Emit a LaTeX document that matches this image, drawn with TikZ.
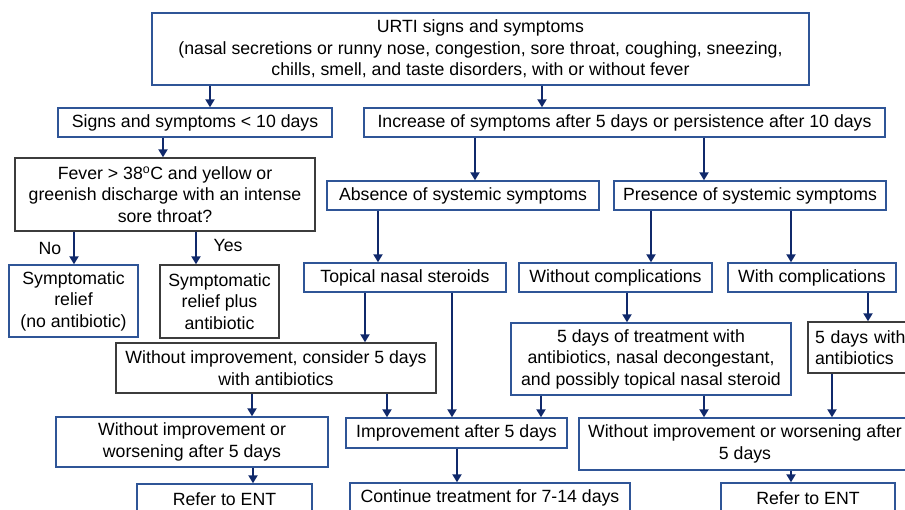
\documentclass[tikz,border=0pt]{standalone}
\usepackage{fontspec}
\setmainfont{Liberation Sans}
\usepackage{xcolor}
\usepackage{tikz}
\usetikzlibrary{arrows.meta}
\definecolor{Navy}{HTML}{10296B}
\definecolor{BoxBlue}{HTML}{2F5597}
\definecolor{DarkGrey}{HTML}{3C3C3C}

\begin{document}
\begin{tikzpicture}[
  x=1pt,y=-1pt,
  every node/.style={font=\fontsize{17.7pt}{21.5pt}\selectfont,align=center},
  box/.style={draw=BoxBlue,line width=1.4pt,fill=white,inner sep=0pt},
  dbox/.style={box,draw=DarkGrey},
  sz/.style 2 args={minimum width=#1pt,minimum height=#2pt},
  lbl/.style={inner sep=0pt},
  arr/.style={-{Triangle[length=8pt,width=9pt]},line width=2.8pt,color=Navy}
]
\useasboundingbox (0,0) rectangle (905,510);
\clip (0,0) rectangle (905,510);

\node[box,sz={657}{72}] (urti) at (480.5,49) {URTI signs and symptoms\\(nasal secretions or runny nose, congestion, sore throat, coughing, sneezing,\\chills, smell, and taste disorders, with or without fever};

\node[box,sz={274}{29}] (signs) at (195,122.5) {Signs and symptoms < 10 days};
\node[box,sz={521}{29}] (incr) at (624.5,122.5) {Increase of symptoms after 5 days or persistence after 10 days};

\node[dbox,sz={300}{73}] (fever) at (165,194.5) {Fever > 38\textsuperscript{o}C and yellow or\\greenish discharge with an intense\\sore throat?};
\node[box,sz={272}{29}] (absent) at (463,195.5) {Absence of systemic symptoms};
\node[box,sz={272}{29}] (present) at (750,195.5) {Presence of systemic symptoms};

\node[lbl] (no) at (50,248) {No};
\node[lbl] (yes) at (228,245) {Yes};
\node[box,sz={129}{72}] (relief) at (73.5,301) {Symptomatic\\relief\\(no antibiotic)};
\node[dbox,sz={119}{73}] (reliefab) at (219.5,301.5) {Symptomatic\\relief plus\\antibiotic};
\node[box,sz={202}{29}] (topical) at (405,277.5) {Topical nasal steroids};
\node[box,sz={193}{29}] (nocomp) at (615.5,277.5) {Without complications};
\node[box,sz={168}{29}] (comp) at (812,277.5) {With complications};

\node[dbox,sz={320}{50}] (consider) at (276,368) {Without improvement, consider 5 days\\with antibiotics};
\node[box,sz={280}{72}] (treat) at (651,359) {5 days of treatment with\\antibiotics, nasal decongestant,\\and possibly topical nasal steroid};
\node[dbox,sz={120}{51},text width=106pt,align=left,inner xsep=7pt] (withab) at (868,347.5) {5 days with\\antibiotics};

\node[box,sz={272}{50}] (worseA) at (192,442) {Without improvement or\\worsening after 5 days};
\node[box,sz={221}{30}] (improve) at (456.5,433) {Improvement after 5 days};
\node[box,sz={332}{52}] (worseB) at (745,444) {Without improvement or worsening after\\5 days};

\node[box,sz={175}{30}] (entA) at (224.5,499) {Refer to ENT};
\node[box,sz={280}{30}] (cont) at (490,498) {Continue treatment for 7-14 days};
\node[box,sz={174}{30}] (entB) at (808,498) {Refer to ENT};

\draw[arr] (urti.south -| 210,0) -- (signs.north -| 210,0);
\draw[arr] (urti.south -| 542,0) -- (incr.north -| 542,0);
\draw[arr] (signs.south -| 163,0) -- (fever.north -| 163,0);
\draw[arr] (fever.south -| 74,0) -- (relief.north -| 74,0);
\draw[arr] (fever.south -| 196,0) -- (reliefab.north -| 196,0);
\draw[arr] (incr.south -| 475,0) -- (absent.north -| 475,0);
\draw[arr] (incr.south -| 704,0) -- (present.north -| 704,0);
\draw[arr] (absent.south -| 378,0) -- (topical.north -| 378,0);
\draw[arr] (present.south -| 651,0) -- (nocomp.north -| 651,0);
\draw[arr] (present.south -| 791,0) -- (comp.north -| 791,0);
\draw[arr] (nocomp.south -| 627,0) -- (treat.north -| 627,0);
\draw[arr] (comp.south -| 868,0) -- (withab.north -| 868,0);
\draw[arr] (topical.south -| 365,0) -- (consider.north -| 365,0);
\draw[arr] (topical.south -| 452,0) -- (improve.north -| 452,0);
\draw[arr] (consider.south -| 252,0) -- (worseA.north -| 252,0);
\draw[arr] (consider.south -| 387,0) -- (improve.north -| 387,0);
\draw[arr] (treat.south -| 541,0) -- (improve.north -| 541,0);
\draw[arr] (treat.south -| 704,0) -- (worseB.north -| 704,0);
\draw[arr] (withab.south -| 832,0) -- (worseB.north -| 832,0);
\draw[arr] (worseA.south -| 253,0) -- (entA.north -| 253,0);
\draw[arr] (improve.south -| 457,0) -- (cont.north -| 457,0);
\draw[arr] (worseB.south -| 791,0) -- (entB.north -| 791,0);
\end{tikzpicture}
\end{document}
